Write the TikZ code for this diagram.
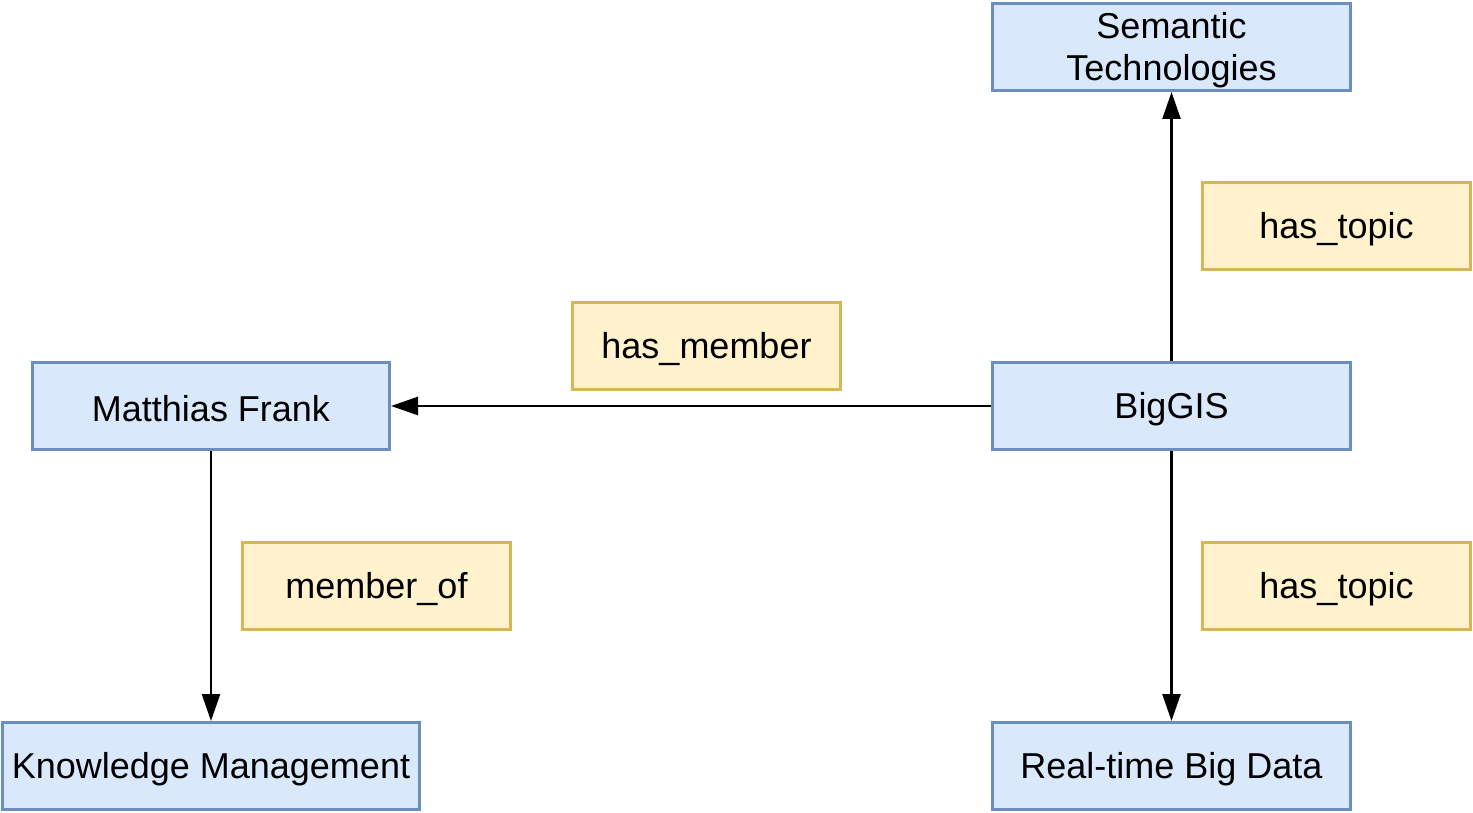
\documentclass[tikz,border=0pt]{standalone}
\usepackage{fontspec}
\setmainfont{Liberation Sans}
\usetikzlibrary{arrows.meta}
\definecolor{bfill}{HTML}{DAE8FC}
\definecolor{bline}{HTML}{6C8EBF}
\definecolor{yfill}{HTML}{FFF2CC}
\definecolor{yline}{HTML}{D6B656}
\newcommand{\lowr}[1]{\raisebox{-3pt}[\height][\depth]{#1}}
\begin{document}
\begin{tikzpicture}[x=1pt,y=1pt,
  entity/.style={draw=bline,fill=bfill,line width=3pt,minimum height=87pt,inner sep=0pt,align=center,font=\fontsize{36}{42}\selectfont},
  relbox/.style={draw=yline,fill=yfill,line width=3pt,minimum width=268pt,minimum height=87pt,inner sep=0pt,align=center,font=\fontsize{36}{42}\selectfont},
  conn/.style={line width=2.5pt,-{Triangle[length=27pt,width=18pt]}}]
\useasboundingbox (0,0) rectangle (1473,-813);
\node[entity,minimum width=358pt] (sem) at (1171.5,-47) {\lowr{Semantic}\\\lowr{Technologies}};
\node[relbox] (tt) at (1336.5,-226) {\lowr{has\_topic}};
\node[relbox] (hm) at (706.5,-346) {\lowr{has\_member}};
\node[entity,minimum width=357pt] (mf) at (211,-406) {\lowr{Matthias Frank}};
\node[entity,minimum width=358pt] (big) at (1171.5,-406) {\lowr{BigGIS}};
\node[relbox] (mo) at (376.5,-586) {\lowr{member\_of}};
\node[relbox] (bt) at (1336.5,-586) {\lowr{has\_topic}};
\node[entity,minimum width=417pt] (km) at (211,-766) {\lowr{Knowledge Management}};
\node[entity,minimum width=358pt] (rt) at (1171.5,-766) {\lowr{Real-time Big Data}};
\draw[conn] (big.north) -- (sem.south);
\draw[conn] (big.west) -- (mf.east);
\draw[conn] (mf.south) -- (km.north);
\draw[conn] (big.south) -- (rt.north);
\end{tikzpicture}
\end{document}
